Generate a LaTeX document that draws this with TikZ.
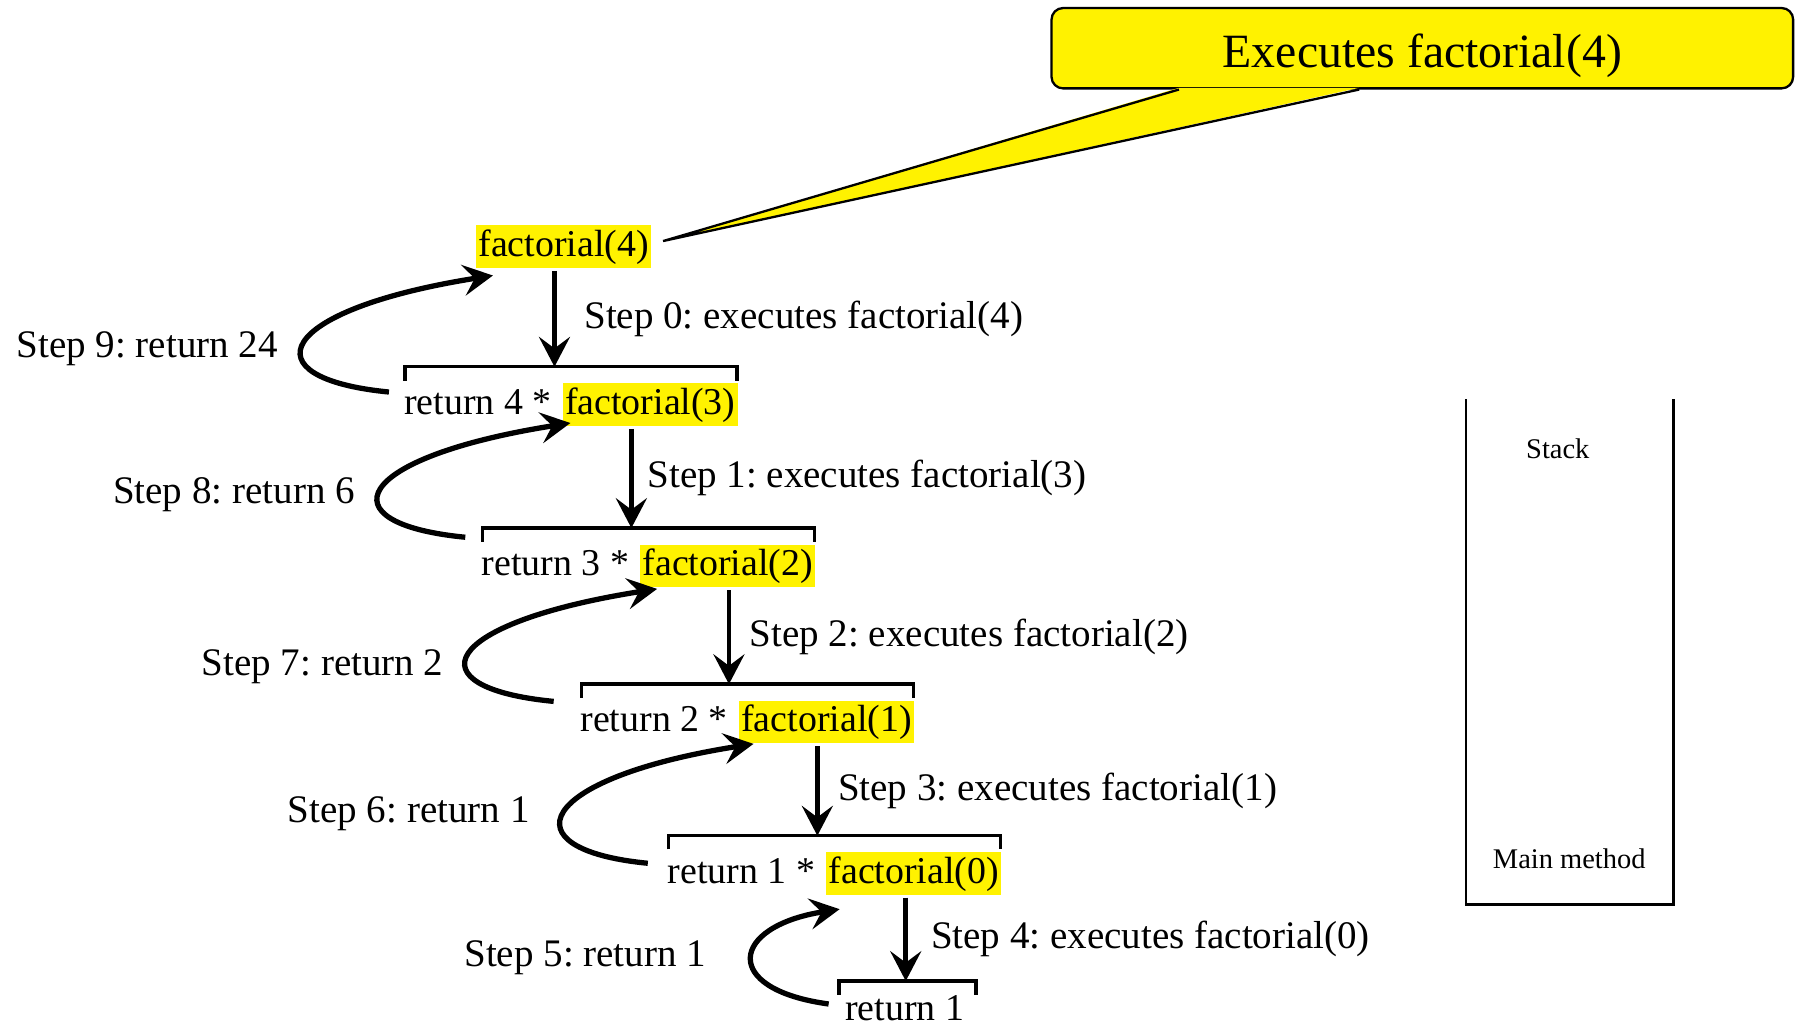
\documentclass[tikz,border=0pt]{standalone}
\usepackage{fontspec}
\setmainfont{Liberation Serif}
\usetikzlibrary{arrows.meta,calc}
\frenchspacing
\newcommand{\mainsize}{\fontsize{16.5}{19}\selectfont}
\newcommand{\stepsize}{\fontsize{17}{20}\selectfont}
\tikzset{
  txt/.style={font=\mainsize, inner xsep=1pt, inner ysep=1.5pt, text height=12pt, text depth=3.6pt},
  hl/.style={txt, fill=yellow},
  call/.style={line width=2pt, -{Stealth[length=13pt,width=13.5pt,inset=5pt]}},
  ret/.style={line width=2.3pt, -{Stealth[length=13pt,width=13.5pt,inset=5pt]}},
  bracket/.style={line width=1.5pt},
  steplabel/.style={font=\stepsize, inner sep=0pt},
  bubble/.style={draw, fill=yellow, line width=1pt, rounded corners=5pt, inner ysep=2pt,
    text height=21.5pt, text depth=4.5pt,
    minimum width=323pt, minimum height=35pt, font=\fontsize{20.8}{24}\selectfont},
  stacklabel/.style={font=\fontsize{12.4}{14}\selectfont}
}

\begin{document}
\begin{tikzpicture}[x=0.5pt,y=-0.5pt]
  \useasboundingbox (0,0) rectangle (1568,897);

  % calls
  \node[hl] (f4) at (491,215) {factorial(4)};
  \node[hl] (f3) at (566.5,352.5) {factorial(3)};
  \node[hl] (f2) at (634,493) {factorial(2)};
  \node[hl] (f1) at (720,629) {factorial(1)};
  \node[hl] (f0) at (796,761) {factorial(0)};

  \node[txt, anchor=base east] (b4) at ([xshift=-3.5pt]f3.base west) {return 4 *};
  \node[txt, anchor=base east] (b3) at ([xshift=-3.5pt]f2.base west) {return 3 *};
  \node[txt, anchor=base east] (b2) at ([xshift=-3.5pt]f1.base west) {return 2 *};
  \node[txt, anchor=base east] (b1) at ([xshift=-3.5pt]f0.base west) {return 1 *};
  \node[txt, inner ysep=0pt, text depth=0pt, anchor=base] (b0) at (788,889) {return 1};

  % brackets
  \foreach \b/\f in {b4/f3, b3/f2, b2/f1, b1/f0}
    \draw[bracket] ($(\b.north west)+(3,-2)$) -- ++(0,-12) coordinate (k\b) -| ($(\f.north east)+(-1,-2)$);
  \draw[bracket] ($(b0.north west)+(-3,2)$) -- ++(0,-12) coordinate (kb0) -| ($(b0.north east)+(8,2)$);

  % step 0 .. 4
  \foreach \f/\k/\dx/\s/\n/\lx in {f4/kb4/-8/0/4/12, f3/kb3/-16.5/1/3/6, f2/kb2/1/2/2/8, f1/kb1/-8/3/1/8, f0/kb0/-7/4/0/10}
    \draw[call] ($(\f.south)+(\dx,2)$) -- ($(\f.south |- \k)+(\dx,0)$)
      node[steplabel, midway, anchor=west, xshift=\lx pt] (c\s) {Step \s: executes factorial(\n)};

  % step 5 .. 9
  \draw[ret] ($(kb4)+(-14,22)$) .. controls +(-124,-12) and +(-190,30) .. ($(f4.south west)+(15,6)$)
    node[steplabel, pos=.5, anchor=east, xshift=-11pt, yshift=-3pt] (s9) {Step 9: return 24};
  \draw[ret] ($(kb3)+(-15,8)$) .. controls +(-124,-12) and +(-190,30) .. ($(f3.south west)+(7,-3)$)
    node[steplabel, pos=.5, anchor=east, xshift=-11pt, yshift=-3pt] (s8) {Step 8: return 6};
  \draw[ret] ($(kb2)+(-24,15)$) .. controls +(-124,-12) and +(-190,30) .. ($(f2.south west)+(15,1)$)
    node[steplabel, pos=.5, anchor=east, xshift=-10.5pt, yshift=-6pt] (s7) {Step 7: return 2};
  \draw[ret] ($(kb1)+(-18,24)$) .. controls +(-124,-12) and +(-190,30) .. ($(f1.south west)+(13,0)$)
    node[steplabel, pos=.5, anchor=east, xshift=-14.5pt, yshift=-1pt] (s6) {Step 6: return 1};
  \draw[ret] ($(kb0)+(-9,20)$) .. controls +(-95,-13) and +(-95,15) .. ($(f0.south west)+(12,12)$)
    node[steplabel, pos=.5, anchor=east, xshift=-19pt] (s5) {Step 5: return 1};

  % callout
  \node[bubble] (exec) at (1239,42) {Executes factorial(4)};
  \coordinate (tip) at ($(f4.east)+(10,-5)$);
  \fill[yellow] ($(exec.south west)+(112,-1.5)$) -- (tip) -- ($(exec.south west)+(269,-1.5)$) -- cycle;
  \draw[line width=1pt] ($(exec.south west)+(112,0)$) -- (tip) -- ($(exec.south west)+(269,0)$);

  % stack
  \draw[line width=1.2pt] (1277,348) |- (1458,788) -- (1458,348);
  \node[stacklabel] (stk) at (1357,391) {Stack};
  \node[stacklabel] (mainm) at (1367,748) {Main method};
\end{tikzpicture}
\end{document}
